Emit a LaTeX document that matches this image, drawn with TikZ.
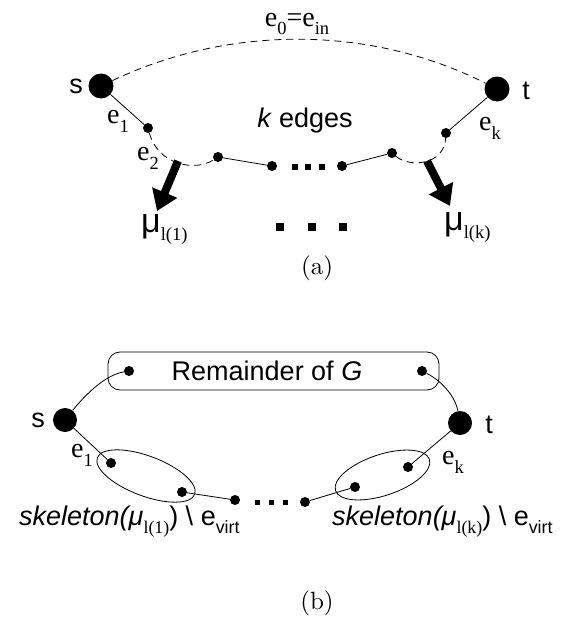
\documentclass[tikz,border=0pt]{standalone}
\usepackage{fontspec}
\usetikzlibrary{arrows.meta,shapes.geometric}
\newfontfamily\sfA{Liberation Sans}
\newfontfamily\rmT{Liberation Serif}
\newfontfamily\lmten{lmroman10-regular.otf}
\newcommand\Lsub[1]{\raisebox{-0.32em}{\scalebox{0.66}{#1}}}
\begin{document}
\begin{tikzpicture}[x=1pt,y=-1pt,
  bigdot/.style={circle,fill=black,inner sep=0pt,minimum size=25pt},
  smdot/.style={circle,fill=black,inner sep=0pt,minimum size=10pt},
  sq/.style={rectangle,fill=black,inner sep=0pt,minimum size=6pt},
  bigsq/.style={rectangle,fill=black,inner sep=0pt,minimum size=8pt},
  sflab/.style={font=\sfA\fontsize{27}{30}\selectfont,inner sep=0pt},
  rmlab/.style={font=\rmT\fontsize{28}{30}\selectfont,inner sep=0pt},
  edge/.style={line width=0.8pt},
  dedge/.style={line width=0.8pt,dash pattern=on 7pt off 5pt},
  fatarrow/.style={line width=8pt,-{Triangle[length=20pt,width=26pt]}},
  caplab/.style={font=\lmten\fontsize{25}{28}\selectfont,inner sep=0pt},
  skel/.style={font=\sfA\fontsize{27}{30}\selectfont,inner sep=0pt},
  oval/.style={draw,ellipse,line width=0.8pt,inner sep=0pt}
]
\useasboundingbox (0,0) rectangle (567,621);

% ---------------- (a) ----------------
\node[bigdot] (s) at (101,86) {};
\node[bigdot] (t) at (497,89) {};
\node[sflab] (slab) at (76,86) {s};
\node[sflab] (tlab) at (526,91) {t};
\draw[dedge] (s) .. controls (230,25) and (370,25) .. (t);
\node[rmlab] (e0) at (297,24) {e\Lsub{0}=e\Lsub{in}};

\node[smdot] (a1) at (148,128) {};
\node[smdot] (a2) at (218,157) {};
\node[smdot] (a3) at (272,166) {};
\node[smdot] (a4) at (342,166) {};
\node[smdot] (a5) at (392,153) {};
\node[smdot] (a6) at (446,133) {};
\node[sq] (ad1) at (295,167) {};
\node[sq] (ad2) at (308,167) {};
\node[sq] (ad3) at (322,167) {};

\draw[edge] (s) -- (a1);
\draw[dedge] (a1) .. controls (158,165) and (195,172) .. (a2);
\draw[edge] (a2) -- (a3);
\draw[edge] (a4) -- (a5);
\draw[dedge] (a5) .. controls (410,168) and (444,165) .. (a6);
\draw[edge] (a6) -- (t);

\node[rmlab] (e1a) at (118,121) {e\Lsub{1}};
\node[rmlab] (e2a) at (148,158) {e\Lsub{2}};
\node[rmlab] (eka) at (490,128) {e\Lsub{k}};
\node[sflab] (kedges) at (305,121) {\itshape k\hspace{0.3em}\upshape edges};

\coordinate (arL0) at (178,161);
\coordinate (arL1) at (157,211);
\coordinate (arR0) at (427,161);
\coordinate (arR1) at (450,206);
\draw[fatarrow] (arL0) -- (arL1);
\draw[fatarrow] (arR0) -- (arR1);

\node[anchor=base west,inner sep=0pt] (muL) at (141,232)
  {{\sfA\fontsize{34}{36}\selectfont μ}{\rmT\fontsize{28}{30}\selectfont\Lsub{l(1)}}};
\node[anchor=base west,inner sep=0pt] (muR) at (444,230)
  {{\sfA\fontsize{34}{36}\selectfont μ}{\rmT\fontsize{28}{30}\selectfont\Lsub{l(k)}}};
\node[bigsq] (bd1) at (280,227) {};
\node[bigsq] (bd2) at (312,227) {};
\node[bigsq] (bd3) at (343,227) {};

\node[caplab] (capa) at (317,268) {(a)};

% ---------------- (b) ----------------
\node[draw,rounded corners=12pt,line width=0.8pt,minimum width=331pt,minimum height=38pt,inner sep=0pt]
  (rem) at (273.5,371) {};
\node[sflab] (remtxt) at (267,371) {Remainder of \itshape G};
\node[smdot] (r1) at (129,371) {};
\node[smdot] (r2) at (422,371) {};

\node[bigdot,minimum size=24pt] (s2) at (65,420) {};
\node[bigdot,minimum size=24pt] (t2) at (460,423) {};
\node[sflab] (s2lab) at (38,420) {s};
\node[sflab] (t2lab) at (489,425) {t};

\draw[edge] (s2) .. controls (85,395) and (105,375) .. (r1);
\draw[edge] (r2) .. controls (440,380) and (455,395) .. (t2);

\node[oval,minimum width=104pt,minimum height=40pt,rotate=-20.6] (ovL) at (146,476) {};
\node[oval,minimum width=99pt,minimum height=41pt,rotate=18.4] (ovR) at (382.5,475) {};

\node[smdot] (b1) at (111,463) {};
\node[smdot] (b2) at (182,492) {};
\node[smdot] (b3) at (235,500) {};
\node[smdot] (b4) at (305,502) {};
\node[smdot] (b5) at (355,487) {};
\node[smdot] (b6) at (408,467) {};
\node[sq,minimum size=5pt] (bd4) at (257,502) {};
\node[sq,minimum size=5pt] (bd5) at (271,502) {};
\node[sq,minimum size=5pt] (bd6) at (285,502) {};

\draw[edge] (s2) -- (b1);
\draw[edge] (b2) -- (b3);
\draw[edge] (b4) -- (b5);
\draw[edge] (b6) -- (t2);

\node[rmlab] (e1b) at (82,455) {e\Lsub{1}};
\node[rmlab] (ekb) at (453,462) {e\Lsub{k}};

\node[skel,anchor=base west] (skL) at (19,525)
  {\itshape skeleton(μ\upshape{\rmT\Lsub{l(1)}}) \textbackslash{} e\Lsub{virt}};
\node[skel,anchor=base west] (skR) at (332,525)
  {\itshape skeleton(μ\upshape{\rmT\Lsub{l(k)}}) \textbackslash{} e\Lsub{virt}};

\node[caplab] (capb) at (317,603) {(b)};
\end{tikzpicture}
\end{document}
